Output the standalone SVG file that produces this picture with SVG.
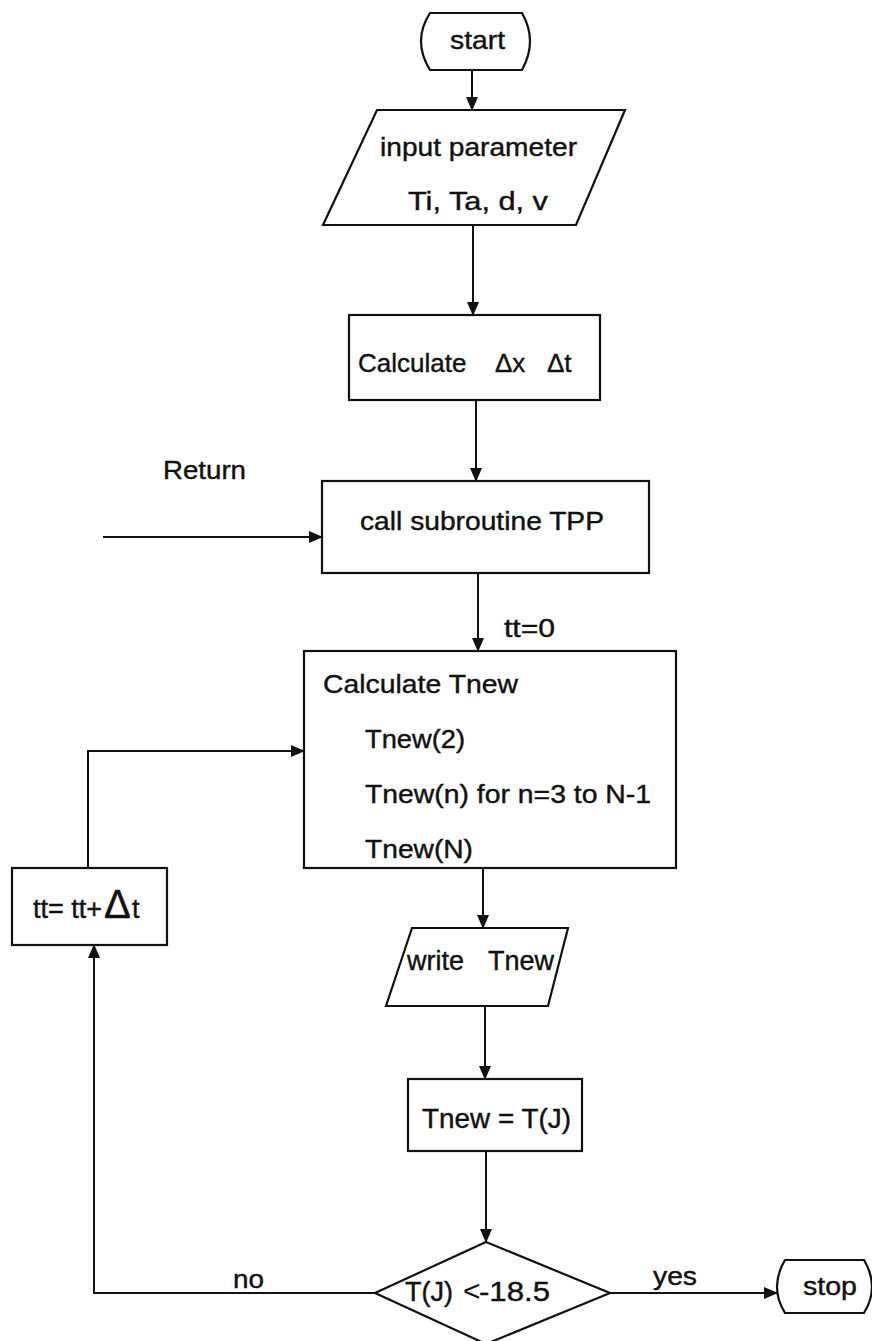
<svg xmlns="http://www.w3.org/2000/svg" width="872" height="1341" viewBox="0 0 872 1341">
<defs>
<style>
.s{fill:#fff;stroke:#111;stroke-width:2.2}
.c{fill:none;stroke:#111;stroke-width:2}
text{font-family:"Liberation Sans",Arial,sans-serif;font-size:26px;fill:#111;stroke:#111;stroke-width:0.4}
</style>
<marker id="ah" markerUnits="userSpaceOnUse" markerWidth="14" markerHeight="12" refX="13" refY="6" orient="auto">
<path d="M0,0 L14,6 L0,12 Z" fill="#111"/>
</marker>
</defs>
<rect width="872" height="1341" fill="#fff"/>
<g id="connectors">
<path class="c" d="M472,70 V110" marker-end="url(#ah)"/>
<path class="c" d="M473,225 V315" marker-end="url(#ah)"/>
<path class="c" d="M476,400 V481" marker-end="url(#ah)"/>
<path class="c" d="M103,537 H322" marker-end="url(#ah)"/>
<path class="c" d="M478,573 V651" marker-end="url(#ah)"/>
<path class="c" d="M483,868 V928" marker-end="url(#ah)"/>
<path class="c" d="M485,1006 V1079" marker-end="url(#ah)"/>
<path class="c" d="M486,1151 V1242" marker-end="url(#ah)"/>
<path class="c" d="M375,1293 H94 V945" marker-end="url(#ah)"/>
<path class="c" d="M88,868 V751 H304" marker-end="url(#ah)"/>
<path class="c" d="M610,1293 H777" marker-end="url(#ah)"/>
<text x="163" y="479" textLength="83" lengthAdjust="spacingAndGlyphs">Return</text>
<text x="504" y="637" textLength="51" lengthAdjust="spacingAndGlyphs">tt=0</text>
<text x="233" y="1288" textLength="31" lengthAdjust="spacingAndGlyphs">no</text>
<text x="653" y="1285" textLength="44" lengthAdjust="spacingAndGlyphs">yes</text>
</g>
<g id="start">
<path class="s" d="M430,13 L522,13 Q538,41 522,70 L430,70 Q412,41 430,13 Z"/>
<text x="450" y="49" textLength="55" lengthAdjust="spacingAndGlyphs">start</text>
</g>
<g id="input">
<path class="s" d="M377,110 L625,110 L576,225 L323,225 Z"/>
<text x="380" y="156" textLength="197" lengthAdjust="spacingAndGlyphs">input parameter</text>
<text x="408" y="210" textLength="140" lengthAdjust="spacingAndGlyphs">Ti, Ta, d, v</text>
</g>
<g id="calc-dx-dt">
<rect class="s" x="349" y="315" width="251" height="85"/>
<text y="372"><tspan x="358">Calculate</tspan> <tspan x="495">Δx</tspan> <tspan x="547">Δt</tspan></text>
</g>
<g id="call-tpp">
<rect class="s" x="322" y="481" width="327" height="92"/>
<text x="360" y="530" textLength="244" lengthAdjust="spacingAndGlyphs">call subroutine TPP</text>
</g>
<g id="calc-tnew">
<rect class="s" x="304" y="651" width="372" height="217"/>
<text x="323" y="693" textLength="195" lengthAdjust="spacingAndGlyphs">Calculate Tnew</text>
<text x="365" y="748" textLength="100" lengthAdjust="spacingAndGlyphs">Tnew(2)</text>
<text x="365" y="803" textLength="286" lengthAdjust="spacingAndGlyphs">Tnew(n) for n=3 to N-1</text>
<text x="365" y="858" textLength="108" lengthAdjust="spacingAndGlyphs">Tnew(N)</text>
</g>
<g id="tt-inc">
<rect class="s" x="12" y="868" width="155" height="77"/>
<text y="918" style="font-size:27px"><tspan x="33">tt= tt+</tspan><tspan x="104" style="font-size:40px">Δ</tspan><tspan x="132">t</tspan></text>
</g>
<g id="write">
<path class="s" d="M412,928 L568,928 L548,1006 L386,1006 Z"/>
<text y="970" style="font-size:27px"><tspan x="407">write</tspan> <tspan x="488">Tnew</tspan></text>
</g>
<g id="assign">
<rect class="s" x="408" y="1079" width="174" height="72"/>
<text x="422" y="1128" style="font-size:27px" textLength="149" lengthAdjust="spacingAndGlyphs">Tnew = T(J)</text>
</g>
<g id="decision">
<path class="s" d="M486,1242 L610,1293 L486,1344 L375,1293 Z"/>
<text y="1301" style="font-size:27px"><tspan x="405">T(J)</tspan> <tspan x="463" style="stroke-width:0;font-size:30px">&lt;</tspan><tspan x="479" textLength="71" lengthAdjust="spacingAndGlyphs">-18.5</tspan></text>
</g>
<g id="stop">
<path class="s" d="M785,1260 L864,1260 Q880,1287 864,1313 L785,1313 Q769,1287 785,1260 Z"/>
<text x="803" y="1295" textLength="54" lengthAdjust="spacingAndGlyphs">stop</text>
</g>
</svg>
